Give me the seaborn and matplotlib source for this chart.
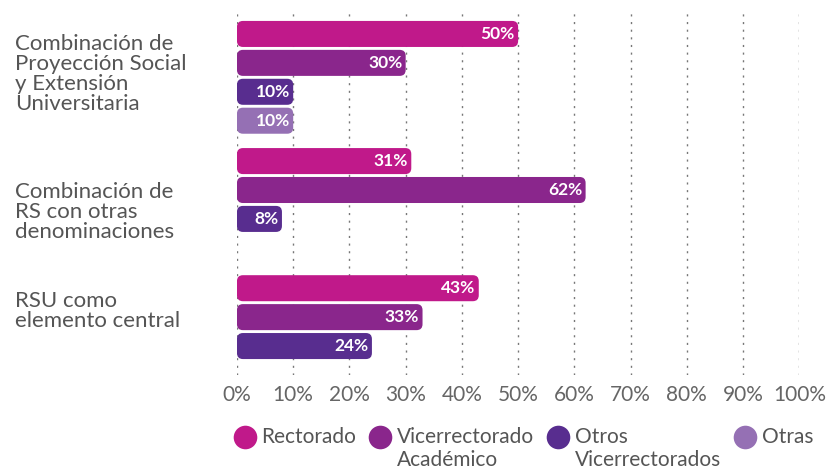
import matplotlib.pyplot as plt
import pandas as pd
import seaborn as sns
from matplotlib.patches import FancyBboxPatch
from matplotlib.lines import Line2D
from matplotlib.legend_handler import HandlerLine2D

groups = [
    "Combinación de\nProyección Social\ny Extensión\nUniversitaria",
    "Combinación de\nRS con otras\ndenominaciones",
    "RSU como\nelemento central",
]
series = ["Rectorado", "Vicerrectorado\nAcadémico", "Otros\nVicerrectorados", "Otras"]
colors = ["#C0198A", "#8A268C", "#582D8F", "#9570B4"]

rectorado = [50, 31, 43]
vicerrectorado = [30, 62, 33]
otros_vice = [10, 8, 24]
otras = [10, None, None]

ticks = list(range(0, 101, 10))

rows = []
for name, vals in zip(series, [rectorado, vicerrectorado, otros_vice, otras]):
    for g, v in zip(groups, vals):
        if v is not None:
            rows.append({"group": g, "serie": name, "value": v})
df = pd.DataFrame(rows)

sns.set_style("white")
plt.rcParams["font.family"] = ["Lato", "DejaVu Sans"]

fig = plt.figure(figsize=(8.3, 4.74), dpi=100)
ax = fig.add_axes([0.2855, 0.209, 0.963 - 0.2855, 0.979 - 0.209])

sns.barplot(
    data=df, x="value", y="group", hue="serie", order=groups, hue_order=series,
    palette=colors, saturation=1, orient="h", width=0.91, gap=0.1, legend=False, ax=ax,
)

ax.set_xlim(0, 100)
ax.set_ylim(2.341, -0.53)

# rounded bars
px_x = ax.get_position().width * 830 / 100
px_y = ax.get_position().height * 474 / (2.341 + 0.53)
r = 6
for p in list(ax.patches):
    x, y = p.get_x(), p.get_y()
    w, h = p.get_width(), p.get_height()
    if w <= 0:
        continue
    fc = p.get_facecolor()
    p.remove()
    fb = FancyBboxPatch(
        (x, y), w, h,
        boxstyle=f"round,pad=0,rounding_size={r / px_x}",
        mutation_aspect=px_x / px_y,
        facecolor=fc, edgecolor="none", zorder=3,
    )
    ax.add_patch(fb)

for c in ax.containers:
    for bar, val in zip(c, c.datavalues):
        if val != val:
            continue
        ax.text(val - 0.6, bar.get_y() + bar.get_height() / 2, f"{val:.0f}%",
                ha="right", va="center", color="white", fontsize=12.5,
                fontweight="bold", zorder=4)

ax.set_xticks(ticks)
ax.set_xticklabels([f"{t}%" for t in ticks], fontsize=15, color="#666666")
ax.tick_params(axis="x", length=0, pad=7)

# group labels sit a little off the group centres in the original
ax.set_yticks([-0.04, 1.04, 1.82])
ax.set_yticklabels(groups)
ax.tick_params(axis="y", length=0, pad=160)
for lbl in ax.get_yticklabels():
    lbl.set_ha("left")
    lbl.set_fontsize(16)
    lbl.set_color("#555555")
    lbl.set_linespacing(1.0)

ax.grid(axis="x", color="#777777", linestyle=(0, (1.5, 4)), linewidth=1)
ax.set_axisbelow(True)
for s in ax.spines.values():
    s.set_visible(False)
ax.set_xlabel("")
ax.set_ylabel("")


class TopMarker(HandlerLine2D):
    # put the dot level with the first line of a two-line label
    def __init__(self, shift=0, **kw):
        super().__init__(**kw)
        self.shift = shift

    def create_artists(self, legend, orig_handle, xdescent, ydescent, width,
                       height, fontsize, trans):
        arts = super().create_artists(legend, orig_handle, xdescent, ydescent,
                                      width, height, fontsize, trans)
        for a in arts:
            a.set_ydata([yy + self.shift * fontsize for yy in a.get_ydata()])
        return arts


handles = [Line2D([], [], marker="o", linestyle="", markersize=17,
                  markerfacecolor=c, markeredgecolor="none") for c in colors]
hmap = {h: TopMarker(shift=0.6, numpoints=1) for h in handles}
leg_labels = [s if "\n" in s else s + "\n " for s in series]
fig.legend(handles, leg_labels, handler_map=hmap, loc="lower left",
           bbox_to_anchor=(0.27, -0.01, 0.72, 0.1), mode="expand", ncol=4,
           frameon=False, fontsize=15, labelcolor="#555555", handletextpad=0.2,
           handlelength=1.2, columnspacing=0.3, borderaxespad=0)

fig.savefig("out.png", dpi=100)
